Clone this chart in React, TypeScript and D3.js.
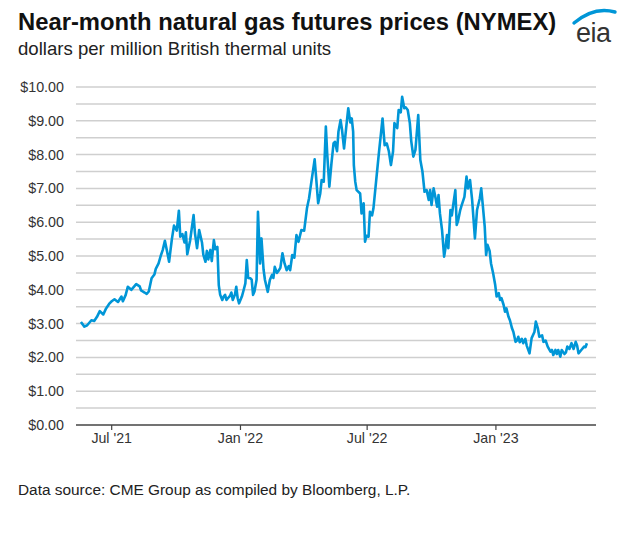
import React from "react";
import * as d3 from "d3";

const dates: string[] = [
  "2021-05-18","2021-05-23","2021-05-27","2021-06-02","2021-06-06","2021-06-10","2021-06-14","2021-06-19","2021-06-23","2021-06-28",
  "2021-07-01","2021-07-05","2021-07-10","2021-07-15","2021-07-17","2021-07-21","2021-07-24","2021-07-29","2021-08-05","2021-08-10",
  "2021-08-12","2021-08-17","2021-08-20","2021-08-23","2021-08-27","2021-08-31","2021-09-02","2021-09-06","2021-09-09","2021-09-12",
  "2021-09-15","2021-09-18","2021-09-21","2021-09-25","2021-09-28","2021-10-02","2021-10-05","2021-10-07","2021-10-10","2021-10-13",
  "2021-10-15","2021-10-17","2021-10-21","2021-10-26","2021-10-28","2021-10-31","2021-11-03","2021-11-07","2021-11-09","2021-11-12",
  "2021-11-14","2021-11-16","2021-11-19","2021-11-21","2021-11-24","2021-11-26","2021-11-29","2021-12-01","2021-12-03","2021-12-06",
  "2021-12-08","2021-12-10","2021-12-12","2021-12-14","2021-12-17","2021-12-19","2021-12-21","2021-12-24","2021-12-26","2021-12-28",
  "2021-12-30","2022-01-03","2022-01-05","2022-01-08","2022-01-10","2022-01-12","2022-01-15","2022-01-17","2022-01-19","2022-01-21",
  "2022-01-24","2022-01-26","2022-01-29","2022-01-31","2022-02-03","2022-02-05","2022-02-09","2022-02-12","2022-02-15","2022-02-17",
  "2022-02-19","2022-02-22","2022-02-24","2022-02-27","2022-03-02","2022-03-05","2022-03-08","2022-03-11","2022-03-13","2022-03-16",
  "2022-03-19","2022-03-22","2022-03-25","2022-03-29","2022-04-02","2022-04-06","2022-04-09","2022-04-12","2022-04-17","2022-04-19",
  "2022-04-22","2022-04-25","2022-04-27","2022-04-30","2022-05-03","2022-05-05","2022-05-08","2022-05-11","2022-05-14","2022-05-16",
  "2022-05-19","2022-05-21","2022-05-24","2022-05-26","2022-05-29","2022-06-01","2022-06-04","2022-06-07","2022-06-09","2022-06-11",
  "2022-06-12","2022-06-14","2022-06-16","2022-06-21","2022-06-23","2022-06-26","2022-06-28","2022-06-30","2022-07-03","2022-07-05",
  "2022-07-08","2022-07-10","2022-07-14","2022-07-18","2022-07-23","2022-07-26","2022-07-29","2022-08-01","2022-08-04","2022-08-07",
  "2022-08-09","2022-08-13","2022-08-15","2022-08-18","2022-08-20","2022-08-23","2022-08-25","2022-08-28","2022-08-31","2022-09-02",
  "2022-09-05","2022-09-08","2022-09-12","2022-09-15","2022-09-18","2022-09-21","2022-09-24","2022-09-27","2022-09-29","2022-10-01",
  "2022-10-04","2022-10-06","2022-10-09","2022-10-11","2022-10-13","2022-10-16","2022-10-19","2022-10-21","2022-10-23","2022-10-25",
  "2022-10-28","2022-10-30","2022-11-01","2022-11-04","2022-11-06","2022-11-08","2022-11-11","2022-11-13","2022-11-17","2022-11-20",
  "2022-11-22","2022-11-25","2022-11-28","2022-12-02","2022-12-05","2022-12-09","2022-12-11","2022-12-13","2022-12-16","2022-12-18",
  "2022-12-20","2022-12-23","2022-12-25","2022-12-28","2022-12-31","2023-01-02","2023-01-05","2023-01-07","2023-01-09","2023-01-12",
  "2023-01-14","2023-01-16","2023-01-19","2023-01-21","2023-01-24","2023-01-26","2023-01-29","2023-01-31","2023-02-02","2023-02-04",
  "2023-02-07","2023-02-09","2023-02-12","2023-02-14","2023-02-18","2023-02-21","2023-02-25","2023-02-27","2023-03-02","2023-03-04",
  "2023-03-08","2023-03-10","2023-03-13","2023-03-16","2023-03-20","2023-03-22","2023-03-24","2023-03-27","2023-03-29","2023-03-31",
  "2023-04-03","2023-04-05","2023-04-09","2023-04-11","2023-04-13","2023-04-16","2023-04-19","2023-04-22","2023-04-25","2023-04-27",
  "2023-04-29","2023-05-03","2023-05-07","2023-05-09","2023-05-11"
];

const prices: number[] = [
  3.05,2.91,2.95,3.10,3.08,3.20,3.37,3.27,3.45,3.60,
  3.66,3.72,3.64,3.80,3.66,3.85,4.09,4.00,4.17,4.10,
  3.98,3.92,3.88,3.95,4.34,4.45,4.62,4.78,5.00,5.18,
  5.45,5.15,4.83,5.50,5.90,5.75,6.34,5.57,5.65,5.40,
  5.70,5.05,5.45,6.21,5.67,5.23,5.77,5.40,5.03,4.83,
  5.15,4.90,5.18,4.85,5.47,5.20,5.27,4.14,3.85,3.70,
  3.80,3.85,3.70,3.75,3.82,3.92,3.70,3.85,4.09,3.75,
  3.60,3.80,3.95,4.19,4.88,4.35,4.34,4.30,3.85,3.95,
  4.30,6.31,4.78,5.52,4.60,4.29,3.94,4.29,4.44,4.35,
  4.68,4.50,4.55,4.65,5.08,4.78,4.58,4.70,4.58,5.03,
  4.95,5.62,5.42,5.77,5.75,6.41,6.71,7.15,7.86,7.35,
  6.56,6.85,7.25,7.20,8.83,8.00,7.05,7.74,8.33,8.38,
  8.10,8.68,9.02,8.75,8.18,8.78,9.37,8.95,9.07,8.68,
  7.69,7.20,6.95,6.85,6.26,6.56,5.42,5.60,5.57,6.31,
  6.20,6.41,7.25,8.09,9.07,8.28,8.33,8.10,7.69,8.09,
  8.93,8.78,9.32,9.25,9.71,9.37,9.40,9.32,8.93,8.40,
  7.94,8.14,9.17,7.84,7.50,6.90,6.95,6.66,6.95,6.51,
  7.00,6.80,6.46,6.80,6.26,5.77,4.98,5.25,5.62,5.23,
  6.36,6.20,6.51,6.95,5.92,6.05,6.36,6.50,6.75,7.35,
  7.00,7.25,6.66,5.52,6.36,6.71,7.00,6.56,5.87,5.03,
  5.33,5.15,4.78,4.49,4.14,3.80,3.90,3.70,3.75,3.55,
  3.35,3.45,3.20,3.10,2.86,2.75,2.46,2.50,2.61,2.45,
  2.55,2.42,2.55,2.35,2.12,2.57,2.75,3.06,2.85,2.61,
  2.65,2.46,2.50,2.32,2.17,2.22,2.07,2.22,2.10,2.22,
  2.02,2.22,2.10,2.15,2.32,2.25,2.42,2.25,2.46,2.35,
  2.12,2.22,2.32,2.30,2.42
];

const yTicks: number[] = [0, 1, 2, 3, 4, 5, 6, 7, 8, 9, 10];
const gridValues: number[] = [0.5, 1, 1.5, 2, 2.5, 3, 3.5, 4, 4.5, 5, 5.5, 6, 6.5, 7, 7.5, 8, 8.5, 9, 9.5, 10];
const xTicks: string[] = ["2021-07-01", "2022-01-01", "2022-07-01", "2023-01-01"];
const xTickLabels: string[] = ["Jul '21", "Jan '22", "Jul '22", "Jan '23"];

const title = "Near-month natural gas futures prices (NYMEX)";
const subtitle = "dollars per million British thermal units";
const source = "Data source: CME Group as compiled by Bloomberg, L.P.";

export default function App() {
  const W = 626, H = 553;
  const left = 76, right = 596, top = 87, bottom = 425;
  const parse = d3.utcParse("%Y-%m-%d");
  const x = d3.scaleUtc()
    .domain([parse("2021-05-11")!, parse("2023-05-24")!])
    .range([left, right]);
  const y = d3.scaleLinear().domain([0, 10]).range([bottom, top]);
  const data = dates.map((d, i) => ({ d: parse(d)!, v: prices[i] }));
  const line = d3.line<{ d: Date; v: number }>()
    .x(p => x(p.d))
    .y(p => y(p.v));
  const font = "Arial, 'Liberation Sans', Helvetica, sans-serif";

  return (
    <svg width={W} height={H} style={{ position: "absolute", left: 0, top: 0, background: "#fff" }} fontFamily={font}>
      <rect x={0} y={0} width={W} height={H} fill="#fff" />
      <text x={18} y={30} fontSize={23.8} fontWeight="bold" fill="#111">{title}</text>
      <text x={18} y={55} fontSize={18.6} fill="#222">{subtitle}</text>
      {/* eia logo */}
      <g>
        <path d="M 574 23 Q 594 6 615 12" fill="none" stroke="#0096d7" strokeWidth={3.4} strokeLinecap="round" />
        <text x={576} y={42} fontSize={27} fill="#333" letterSpacing={-0.5}>eia</text>
      </g>
      {gridValues.map(g => (
        <line key={g} x1={left} x2={right} y1={y(g)} y2={y(g)} stroke="#cfcfcf" strokeWidth={1.5} />
      ))}
      {yTicks.map(t => (
        <text key={t} x={64} y={y(t) + 5} fontSize={14.3} fill="#333" textAnchor="end">
          {"$" + t.toFixed(2)}
        </text>
      ))}
      <path d={line(data) || ""} fill="none" stroke="#0096d7" strokeWidth={2.6} strokeLinejoin="round" />
      <line x1={left} x2={right} y1={bottom} y2={bottom} stroke="#444" strokeWidth={1.5} />
      {xTicks.map((t, i) => (
        <g key={t}>
          <line x1={x(parse(t)!)} x2={x(parse(t)!)} y1={bottom} y2={bottom + 5} stroke="#444" strokeWidth={1.2} />
          <text x={x(parse(t)!)} y={bottom + 18} fontSize={14.2} fill="#333" textAnchor="middle">{xTickLabels[i]}</text>
        </g>
      ))}
      <text x={18} y={495} fontSize={15.4} fill="#222">{source}</text>
    </svg>
  );
}
